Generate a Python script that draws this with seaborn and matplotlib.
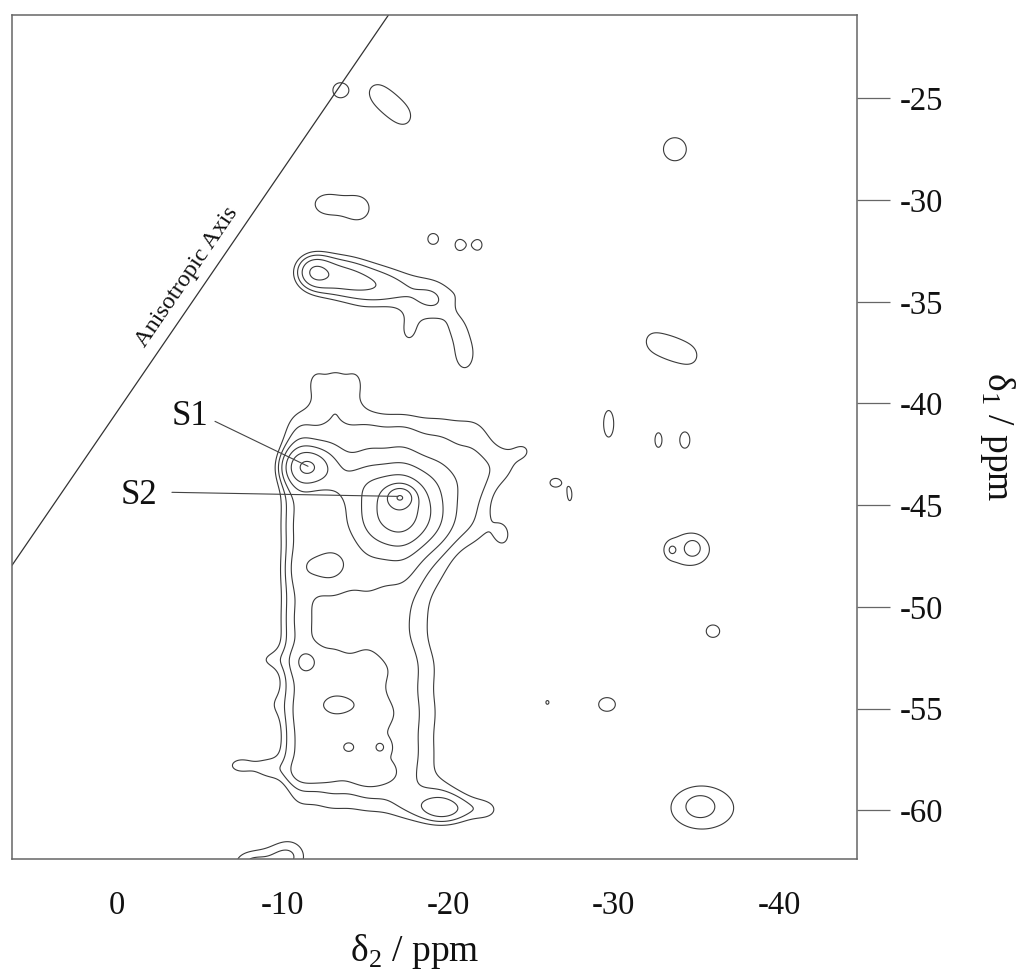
import numpy as np
import matplotlib
matplotlib.use("Agg")
import matplotlib.pyplot as plt
import seaborn as sns

# ---- axis ranges and ticks (ppm) ----
d2_limits = (6.34, -44.7)
d1_limits = (-62.4, -20.9)
d2_ticks = [5, 0, -5, -10, -15, -20, -25, -30, -35, -40]
d2_ticklabels = ["", "0", "", "-10", "", "-20", "", "-30", "", "-40"]
d1_ticks = [-25, -30, -35, -40, -45, -50, -55, -60]
d1_ticklabels = ["-25", "-30", "-35", "-40", "-45", "-50", "-55", "-60"]

contour_levels = [1.0, 1.4, 1.9, 2.6, 3.5, 4.7, 6.3, 8.5]

# ---- cross peaks: (delta2, delta1, width2, width1, height) ----
site_peaks = [
    (-11.5, -43.1, 1.0, 0.65, 3.0),     # S1
    (-17.1, -44.6, 0.55, 0.35, 3.5),    # S2 top
    (-17.0, -45.3, 1.6, 1.3, 3.5),      # S2 body
    (-14.3, -43.9, 1.2, 0.7, 0.45),     # ridge between S1 and S2
]

# main band, sampled on rows / columns
band_d2 = [-10.9, -12.9, -15.1, -17.3, -19.5, -21.7]
band_d1 = [-41.4, -43.7, -46.0, -48.3, -50.6, -52.9, -55.2, -57.5, -59.6]
band_height = [
    [1.05, 1.05, 1.05, 1.00, 0.85, 0.85],
    [1.40, 1.37, 1.37, 1.37, 1.20, 1.10],
    [1.40, 1.37, 1.37, 1.37, 1.10, 0.90],
    [1.40, 1.37, 1.37, 1.25, 0.60, 0.10],
    [1.40, 1.00, 1.00, 0.90, 0.45, 0.00],
    [1.40, 1.37, 1.37, 1.15, 0.55, 0.00],
    [1.40, 1.37, 1.37, 1.15, 0.55, 0.00],
    [1.40, 1.37, 1.37, 1.20, 0.55, 0.00],
    [0.55, 0.70, 0.75, 0.90, 0.90, 0.40],
]
band_width2 = [0.9, 1.05, 1.1, 1.1, 1.1, 1.1]
band_width1 = [1.15, 1.15, 1.15, 1.15, 1.15, 1.15, 1.15, 1.15, 0.9]

band_detail = [
    (-12.0, -38.9, 0.55, 0.7, 0.95),    # top shoulder
    (-13.2, -38.9, 0.55, 0.7, 0.95),
    (-14.4, -38.9, 0.55, 0.7, 0.95),
    (-13.2, -40.2, 1.2, 0.5, 0.4),
    (-23.6, -43.0, 0.9, 1.0, 0.8),      # right shoulder
    (-24.7, -42.3, 0.6, 0.5, 0.7),
    (-23.4, -46.5, 0.55, 0.7, 0.85),
    (-21.0, -51.5, 0.6, 0.6, 0.5),
    (-9.0, -52.6, 0.8, 0.5, 0.8),
    (-9.3, -54.8, 0.5, 0.6, 0.5),
    (-7.5, -57.8, 1.2, 0.6, 1.1),
    (-9.2, -58.0, 0.6, 0.5, 0.6),
    (-12.6, -48.0, 1.1, 0.7, 0.8),
    (-11.5, -52.7, 0.55, 0.45, 0.75),
    (-13.4, -54.8, 1.0, 0.45, 0.8),
    (-14.0, -56.9, 0.35, 0.25, 0.85),
    (-15.9, -56.9, 0.3, 0.25, 0.85),
    (-11.8, -58.2, 1.1, 0.45, 0.8),
    (-15.3, -58.3, 1.1, 0.45, 0.75),
    (-19.8, -60.0, 1.3, 0.55, 1.3),
    (-22.5, -60.0, 0.8, 0.5, 0.7),
]

upper_group = [
    (-11.8, -33.5, 0.8, 0.65, 1.6),
    (-13.2, -33.7, 1.5, 0.85, 1.7),
    (-16.0, -34.3, 1.8, 0.9, 1.55),
    (-19.3, -35.0, 1.2, 1.0, 1.2),
    (-21.3, -34.3, 0.6, 0.6, 0.6),
    (-17.6, -36.6, 0.65, 0.75, 0.9),
    (-20.6, -36.3, 0.6, 0.6, 0.6),
    (-21.0, -37.6, 0.7, 0.9, 1.25),
    (-14.5, -36.2, 0.8, 0.5, 0.5),
]

isolated_peaks = [
    (-13.47, -24.6, 0.58, 0.48, 1.3),
    (-15.5, -24.6, 0.8, 0.75, 0.85),
    (-16.5, -25.3, 0.8, 0.75, 0.85),
    (-17.5, -26.0, 0.8, 0.75, 0.85),
    (-33.7, -27.5, 0.95, 0.78, 1.3),
    (-12.6, -30.2, 0.9, 0.6, 1.25),
    (-14.6, -30.4, 0.9, 0.75, 1.25),
    (-19.1, -31.9, 0.5, 0.41, 1.2),
    (-20.7, -32.2, 0.4, 0.4, 1.2),
    (-21.8, -32.2, 0.4, 0.4, 1.2),
    (-32.1, -36.9, 0.85, 0.9, 0.85),
    (-33.5, -37.3, 0.85, 0.9, 0.85),
    (-34.9, -37.7, 0.85, 0.9, 0.85),
    (-29.7, -41.0, 0.42, 0.9, 1.3),
    (-32.7, -41.8, 0.38, 0.66, 1.15),
    (-34.3, -41.8, 0.5, 0.66, 1.2),
    (-26.5, -43.9, 0.55, 0.35, 1.2),
    (-27.35, -44.55, 0.22, 0.45, 1.12),
    (-34.5, -47.2, 2.0, 1.2, 1.2),
    (-34.8, -47.1, 0.4, 0.35, 0.5),
    (-33.5, -47.2, 0.25, 0.25, 0.45),
    (-36.0, -51.2, 0.6, 0.45, 1.25),
    (-26.0, -54.7, 0.3, 0.3, 1.05),
    (-29.6, -54.8, 0.75, 0.5, 1.25),
    (-35.4, -59.9, 3.0, 1.6, 1.2),
    (-35.2, -59.8, 0.7, 0.45, 0.55),
    (-10.3, -62.3, 1.1, 0.8, 1.45),
    (-8.0, -62.6, 1.0, 0.6, 1.3),
]

# anisotropic axis end points (delta2, delta1)
aniso_d2 = [6.34, -16.4]
aniso_d1 = [-47.96, -20.9]

# site labels: text position and the point each leader reaches
site_names = ["S1", "S2"]
site_text_d2 = [-4.41, -1.33]
site_text_d1 = [-40.63, -44.52]
leader_start_d2 = [-5.92, -3.32]
leader_start_d1 = [-40.88, -44.37]
leader_end_d2 = [-11.54, -16.98]
leader_end_d1 = [-43.09, -44.57]


def spectrum(d2, d1):
    z = np.zeros_like(d2)
    peaks = list(site_peaks) + band_detail + upper_group + isolated_peaks
    for i, row_d1 in enumerate(band_d1):
        for j, col_d2 in enumerate(band_d2):
            h = band_height[i][j]
            if h > 0:
                peaks.append((col_d2, row_d1, band_width2[j], band_width1[i], h))
    for x0, y0, sx, sy, a in peaks:
        z += a * np.exp(-((d2 - x0) ** 2 / (2 * sx ** 2) + (d1 - y0) ** 2 / (2 * sy ** 2)))
    return z


sns.set_style("white")
plt.rcParams["font.family"] = ["Liberation Serif", "DejaVu Serif"]
plt.rcParams["mathtext.fontset"] = "custom"
plt.rcParams["mathtext.rm"] = "Liberation Serif"
plt.rcParams["axes.unicode_minus"] = False

fig = plt.figure(figsize=(10.2, 9.76), dpi=100)
ax = fig.add_axes([12 / 1020, 1 - 859 / 976, 845 / 1020, 844 / 976])

gx = np.linspace(d2_limits[0], d2_limits[1], 1100)
gy = np.linspace(d1_limits[0], d1_limits[1], 900)
X, Y = np.meshgrid(gx, gy)
Z = spectrum(X, Y)

line_color = "#3a3a3a"
ax.contour(X, Y, Z, levels=contour_levels, colors=line_color, linewidths=0.8)

sns.lineplot(x=aniso_d2, y=aniso_d1, ax=ax, color="#333333", linewidth=0.9,
             sort=False, legend=False)
ax.text(-4.23, -33.8, "Anisotropic Axis", rotation=55.6, rotation_mode="anchor",
        ha="center", va="center", fontsize=17.5, color="#111111")

for k, name in enumerate(site_names):
    ax.plot([leader_start_d2[k], leader_end_d2[k]], [leader_start_d1[k], leader_end_d1[k]],
            color="#444444", linewidth=0.8)
    ax.text(site_text_d2[k], site_text_d1[k], name, ha="center", va="center",
            fontsize=25, color="#111111")

ax.set_xlim(*d2_limits)
ax.set_ylim(*d1_limits)

ax.set_xticks(d2_ticks)
ax.set_xticklabels(d2_ticklabels, fontsize=23.5)
ax.set_yticks(d1_ticks)
ax.set_yticklabels(d1_ticklabels, fontsize=23.5)
ax.yaxis.tick_right()
ax.tick_params(axis="x", direction="out", length=15, width=0.9, color="#666666", pad=8,
               labelcolor="#111111")
ax.tick_params(axis="y", direction="out", length=24, width=0.9, color="#666666", pad=7,
               labelcolor="#111111", left=False, right=True)

for side in ["left", "right", "top", "bottom"]:
    ax.spines[side].set_visible(True)
    ax.spines[side].set_color("#666666")
    ax.spines[side].set_linewidth(1.1)

ax.set_xlabel(r"δ$_{\mathrm{2}}$ / ppm", fontsize=27, color="#111111", va="center")
ax.xaxis.set_label_coords(0.477, -0.110)
ax.yaxis.set_label_position("right")
ax.set_ylabel(r"δ$_{\mathrm{1}}$ / ppm", fontsize=27, color="#111111", rotation=270,
              va="center", ha="center")
ax.yaxis.set_label_coords(1.166, 0.5)

fig.savefig("out.png", dpi=100, facecolor="white")
